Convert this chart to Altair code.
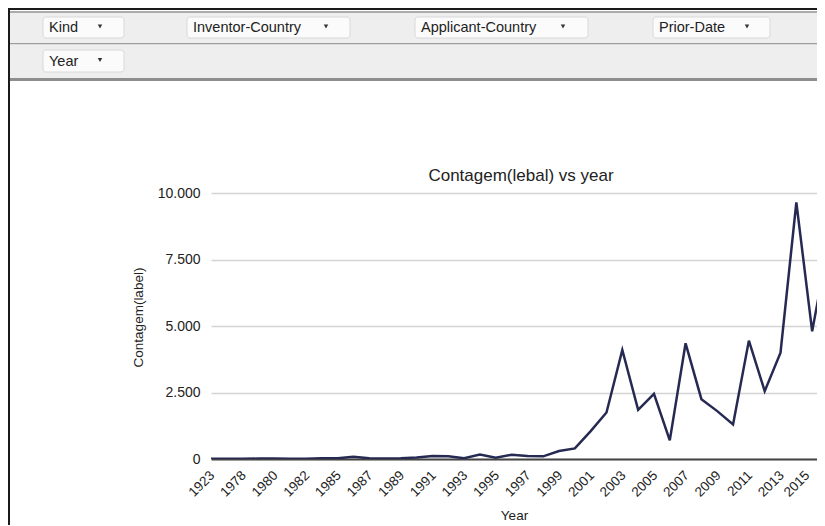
import altair as alt
import pandas as pd

# ---------------- data ----------------
years = ["1923", "1975", "1978", "1979", "1980", "1981", "1982", "1984", "1985",
         "1986", "1987", "1988", "1989", "1990", "1991", "1992", "1993", "1994",
         "1995", "1996", "1997", "1998", "1999", "2000", "2001", "2002", "2003",
         "2004", "2005", "2006", "2007", "2008", "2009", "2010", "2011", "2012",
         "2013", "2014", "2015", "2016"]
counts = [5, 5, 10, 15, 20, 10, 10, 25, 30,
          80, 30, 20, 30, 60, 110, 100, 30, 170,
          50, 160, 110, 100, 300, 400, 1050, 1750, 4100,
          1850, 2450, 700, 4350, 2250, 1800, 1300, 4450, 2550,
          4000, 9650, 4800, 8000]
y_ticks = [0, 2500, 5000, 7500, 10000]
filter_labels = ["Kind", "Inventor-Country", "Applicant-Country", "Prior-Date", "Year"]
chart_title = "Contagem(lebal) vs year"

# ---------------- layout (page pixels) ----------------
FONT = "Liberation Sans"
PLOT_LEFT, PLOT_TOP = 211, 193
W, H = 606, 266
STEP = 15.82
PAD = {"left": PLOT_LEFT - 8, "top": PLOT_TOP - 8, "right": 0, "bottom": 66}


def px(v):
    return v - PLOT_LEFT


def py(v):
    return v - PLOT_TOP


# toolbar bands: x1, x2, y1, y2, colour
bands = [
    (8, 817, 8, 10, "#1a1a1a"),
    (8, 817, 11, 13, "#ababab"),
    (8, 817, 13, 43, "#eeeeee"),
    (8, 817, 43, 44.5, "#9c9c9c"),
    (8, 817, 44.5, 78, "#eeeeee"),
    (8, 817, 78, 81, "#8e8e8e"),
    (8, 10, 8, 530, "#1a1a1a"),
]
# buttons: x1, x2, y1, y2, arrow x
buttons = [
    (43, 124, 17, 38, 100),
    (187, 350, 17, 38, 326),
    (415, 588, 17, 38, 563),
    (653, 770, 17, 38, 747),
    (43, 124, 50, 72, 100),
]

band_df = pd.DataFrame([
    {"x": px(a), "x2": px(b), "y": py(c), "y2": py(d), "c": col}
    for a, b, c, d, col in bands
])
btn_df = pd.DataFrame([
    {"x": px(a), "x2": px(b), "y": py(c), "y2": py(d),
     "tx": px(a + 6), "ty": py((c + d) / 2 + 0.5), "ax": px(ax),
     "ay": py((c + d) / 2 - 1), "label": lab}
    for (a, b, c, d, ax), lab in zip(buttons, filter_labels)
])
title_df = pd.DataFrame([{"x": px(521), "y": py(176), "t": chart_title}])

xs = lambda f: alt.X(f, type="quantitative", scale=None, axis=None)
ys = lambda f: alt.Y(f, type="quantitative", scale=None, axis=None)

band_layer = alt.Chart(band_df).mark_rect().encode(
    x=xs("x"), x2="x2", y=ys("y"), y2="y2",
    color=alt.Color("c:N", scale=None),
)
btn_layer = alt.Chart(btn_df).mark_rect(
    fill="#fbfbfb", stroke="#d9d9d9", strokeWidth=1, cornerRadius=3
).encode(x=xs("x"), x2="x2", y=ys("y"), y2="y2")
btn_text = alt.Chart(btn_df).mark_text(
    align="left", baseline="middle", font=FONT, fontSize=14.5, color="#222222"
).encode(x=xs("tx"), y=ys("ty"), text="label:N")
btn_arrow = alt.Chart(btn_df).mark_point(
    shape="triangle-down", filled=True, size=20, color="#333333", opacity=1
).encode(x=xs("ax"), y=ys("ay"))
title_layer = alt.Chart(title_df).mark_text(
    align="center", baseline="middle", font=FONT, fontSize=17, color="#222222"
).encode(x=xs("x"), y=ys("y"), text="t:N")

toolbar = alt.layer(band_layer, btn_layer, btn_text, btn_arrow, title_layer)

# ---------------- main line chart ----------------
df = pd.DataFrame({"idx": list(range(len(years))), "year": years, "count": counts})
label_array = "[" + ",".join("'%s'" % y for y in years) + "]"
last_label = (len(years) - 1) // 2 * 2

line = alt.Chart(df).mark_line(
    color="#262a52", strokeWidth=2.5, clip=True, strokeJoin="miter"
).encode(
    x=alt.X("idx:Q",
            scale=alt.Scale(domain=[0, W / STEP], nice=False, zero=False),
            axis=alt.Axis(
                title="Year", values=list(range(0, len(years), 2)),
                labelExpr=label_array + "[datum.value]",
                labelAngle=-45, labelAlign="right", labelBaseline="top",
                labelFont=FONT, labelFontSize=13.5, labelColor="#222222",
                labelPadding=9,
                labelOffset={"condition": {"test": "datum.value == %d" % last_label,
                                           "value": -10},
                             "value": -4},
                ticks=False, grid=False, domainColor="#444444", domainWidth=2,
                titleFont=FONT, titleFontSize=13.5, titleFontWeight="normal",
                titleColor="#222222", titleY=49, titleBaseline="top",
                labelOverlap=False, labelFlush=False,
            )),
    y=alt.Y("count:Q",
            scale=alt.Scale(domain=[0, 10000], nice=False),
            axis=alt.Axis(
                title="Contagem(label)", values=y_ticks,
                labelExpr="replace(format(datum.value, ','), ',', '.')",
                labelFont=FONT, labelFontSize=14, labelColor="#222222",
                labelPadding=11, ticks=False, domain=False,
                gridColor="#d4d4d4", gridWidth=1.5,
                titleFont=FONT, titleFontSize=13.5, titleFontWeight="normal",
                titleColor="#222222", titleX=-66, titleY=124,
            )),
)

chart = alt.layer(toolbar, line).resolve_scale(
    x="independent", y="independent"
).properties(
    width=W, height=H,
    autosize=alt.AutoSizeParams(type="none"),
    padding=PAD,
    background="white",
).configure_view(strokeWidth=0)

chart.save("out.html", embed_options={"renderer": "svg", "actions": False})
